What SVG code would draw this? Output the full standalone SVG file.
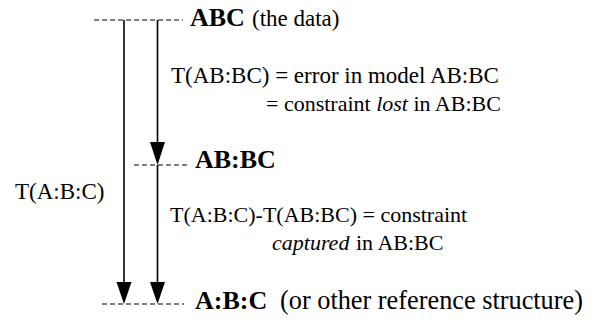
<svg xmlns="http://www.w3.org/2000/svg" width="601" height="324" viewBox="0 0 601 324" font-family="Liberation Serif, Times New Roman, serif">
<style>
text{font-family:"Liberation Serif","Times New Roman",serif;fill:#000}
.n{font-size:23px}
.b{font-size:26px;font-weight:bold}
.d{stroke:#000;stroke-width:1.2;stroke-dasharray:5,3;fill:none}
.l{stroke:#000;stroke-width:1.6;fill:none}
.h{fill:#000}
</style>
<rect width="601" height="324" fill="#fff"/>
<g id="ABC">
<line class="d" x1="94" y1="20" x2="183" y2="20"/>
<text class="b" x="190" y="26">ABC</text>
<text class="n" x="252" y="26" font-size="24">(the data)</text>
</g>
<g id="ABBC">
<line class="d" x1="134" y1="165" x2="187" y2="165"/>
<text class="b" x="195" y="168">AB:BC</text>
</g>
<g id="ABC3">
<line class="d" x1="102" y1="304" x2="184" y2="304"/>
<text class="b" x="195" y="309">A:B:C</text>
<text class="n" x="280" y="309" style="font-size:26.3px">(or other reference structure)</text>
</g>
<g id="connectors">
<line class="l" x1="124" y1="20" x2="124" y2="283"/>
<path class="h" d="M116.5,282 L131.5,282 L124,304 Z"/>
<line class="l" x1="157.5" y1="20" x2="157.5" y2="143"/>
<path class="h" d="M150,142 L165,142 L157.5,165 Z"/>
<line class="l" x1="157.5" y1="165" x2="157.5" y2="283"/>
<path class="h" d="M150,282 L165,282 L157.5,304 Z"/>
</g>
<g id="labels">
<text class="n" x="171" y="83">T(AB:BC) = error in model AB:BC</text>
<text class="n" x="266" y="111" style="font-size:22px">= constraint <tspan font-style="italic">lost</tspan> in AB:BC</text>
<text class="n" x="15" y="199">T(A:B:C)</text>
<text class="n" x="170" y="222" style="font-size:22px">T(A:B:C)-T(AB:BC) = constraint</text>
<text class="n" x="272" y="250" style="font-size:22px"><tspan font-style="italic">captured</tspan><tspan x="356">in AB:BC</tspan></text>
</g>
</svg>
